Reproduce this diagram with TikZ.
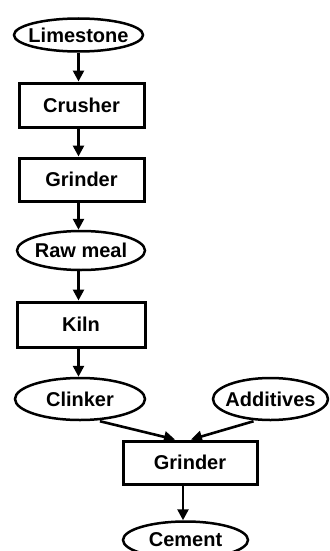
\documentclass[tikz,border=0pt]{standalone}
\usepackage{fontspec}
\setmainfont{Liberation Sans}
\usetikzlibrary{shapes.geometric,arrows.meta}
\tikzset{
  lbl/.style={font=\fontsize{20}{24}\selectfont\bfseries, text=black},
  oval/.style={lbl, ellipse, draw=black, line width=2.5pt, inner sep=0pt},
  stepbox/.style={lbl, rectangle, draw=black, line width=3pt, inner sep=0pt},
  arr/.style={draw=black, line width=2.6pt, -{Triangle[length=11pt,width=11pt]}}
}
\newcommand{\zw}[1]{\makebox[0pt]{#1}}
\begin{document}
\begin{tikzpicture}[x=1pt,y=-1pt]
\useasboundingbox (0,0) rectangle (329,551);
\clip (0,0) rectangle (329,551);
\node[oval, minimum width=129pt, minimum height=33pt] (lime) at (78.5,35) {\zw{Limestone}};
\node[stepbox, minimum width=125pt, minimum height=44pt] (crusher) at (81.5,105) {Crusher};
\node[stepbox, minimum width=125pt, minimum height=43pt] (grind1) at (81.5,179.5) {Grinder};
\node[oval, minimum width=128pt, minimum height=39pt] (raw) at (81,250.5) {\zw{Raw meal}};
\node[stepbox, minimum width=128pt, minimum height=45pt] (kiln) at (81,324.5) {Kiln};
\node[oval, minimum width=130pt, minimum height=42pt] (clinker) at (80,399) {\zw{Clinker}};
\node[oval, minimum width=115pt, minimum height=42pt] (add) at (270.5,399) {\zw{Additives}};
\node[stepbox, minimum width=134pt, minimum height=43pt] (grind2) at (190,462.5) {Grinder};
\node[oval, minimum width=125pt, minimum height=37pt] (cement) at (185.5,540) {\zw{Cement}};
\draw[arr] (lime.south) -- (lime.south |- crusher.north);
\draw[arr] (crusher.south -| lime.south) -- (grind1.north -| lime.south);
\draw[arr] (grind1.south -| lime.south) -- (raw.north -| lime.south);
\draw[arr] (raw.south -| lime.south) -- (kiln.north -| lime.south);
\draw[arr] (kiln.south -| lime.south) -- (clinker.north -| lime.south);
\draw[arr] ([xshift=20pt]clinker.south) -- ([xshift=-15pt]grind2.north);
\draw[arr] ([xshift=-17pt]add.south) -- ([xshift=1pt]grind2.north);
\draw[arr] ([xshift=-7pt]grind2.south) -- ([xshift=-2.5pt]cement.north);
\end{tikzpicture}
\end{document}
